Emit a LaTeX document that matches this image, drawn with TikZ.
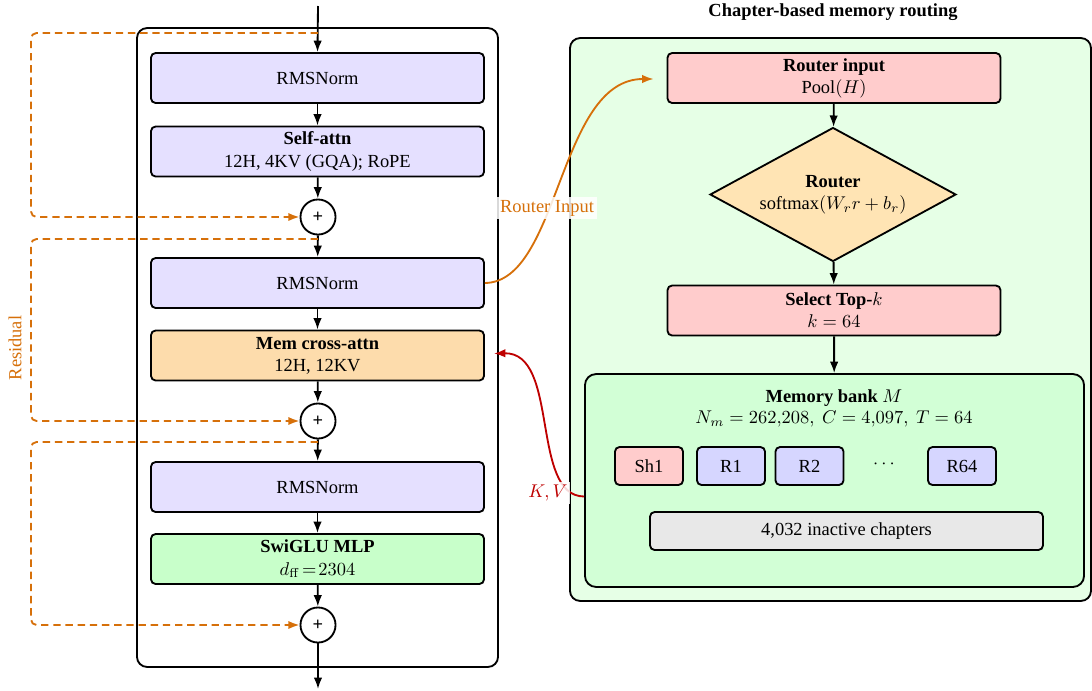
\documentclass[tikz,border=0pt]{standalone}
\usepackage[no-math]{fontspec}
\setmainfont{Liberation Serif}
\usetikzlibrary{arrows.meta,shapes.geometric,calc}
\definecolor{lav}{RGB}{229,224,255}
\definecolor{chipb}{RGB}{214,214,255}
\definecolor{pinkc}{RGB}{255,204,204}
\definecolor{memor}{RGB}{253,220,172}
\definecolor{diaor}{RGB}{255,228,180}
\definecolor{mlpg}{RGB}{200,255,202}
\definecolor{panelg}{RGB}{230,255,230}
\definecolor{bankg}{RGB}{210,255,214}
\definecolor{grayc}{RGB}{232,232,232}
\definecolor{resor}{RGB}{214,112,10}
\definecolor{kvred}{RGB}{190,0,0}
\begin{document}
\begin{tikzpicture}[x=0.542pt,y=-0.542pt,
  lw/.style={line width=1pt},
  blk/.style={draw, lw, rounded corners=2.5pt, minimum width=180.5pt, minimum height=27.1pt, align=center, inner sep=1pt},
  frm/.style={draw, lw, rounded corners=5.5pt, minimum width=195.7pt, minimum height=346.3pt, inner sep=0pt},
  plus/.style={draw, lw, circle, fill=white, minimum size=19pt, inner sep=0pt, font=\bfseries},
  arr/.style={lw, -{Latex[length=6.2pt,width=4.6pt]}},
  res/.style={lw, draw=resor, dash pattern=on 4pt off 2.6pt, rounded corners=3pt, -{Latex[length=6pt,width=4.4pt,fill=resor]}},
  rin/.style={lw, draw=resor, -{Latex[length=6.2pt,width=4.6pt,fill=resor]}},
  kv/.style={lw, draw=kvred, -{Latex[length=6.2pt,width=4.6pt,fill=kvred]}},
  lbl/.style={fill=white, fill opacity=0.85, text opacity=1, inner sep=1.5pt},
  chip/.style={draw, lw, rounded corners=2.5pt, minimum width=36.9pt, minimum height=20.6pt, inner sep=1pt},
]
\useasboundingbox (0,0) rectangle (1092,690);

% ---------- left transformer block ----------
\node[frm] (frame) at (317.5,347.5) {};
\node[blk, fill=lav] (rms1) at (317.5,78) {RMSNorm};
\node[blk, fill=lav] (sa) at (317.5,151.5) {\textbf{Self-attn}\\12H, 4KV (GQA); RoPE};
\node[plus] (p1) at (318,217) {+};
\node[blk, fill=lav] (rms2) at (317.5,283) {RMSNorm};
\node[blk, fill=memor] (mem) at (317.5,355.5) {\textbf{Mem cross-attn}\\12H, 12KV};
\node[plus] (p2) at (318,421) {+};
\node[blk, fill=lav] (rms3) at (317.5,487) {RMSNorm};
\node[blk, fill=mlpg] (mlp) at (317.5,559) {\textbf{SwiGLU MLP}\\$d_{\mathrm{ff}}\!=\!2304$};
\node[plus] (p3) at (318,625) {+};

\coordinate (in) at (318,6);
\coordinate (out) at (318,689);
\coordinate (r1) at (318,33);
\coordinate (r2) at (318,239);
\coordinate (r3) at (318,442);

\draw[arr] (in) -- (rms1.north);
\draw[arr] (rms1) -- (sa);
\draw[arr] (sa) -- (p1);
\draw[arr] (p1) -- (rms2);
\draw[arr] (rms2) -- (mem);
\draw[arr] (mem) -- (p2);
\draw[arr] (p2) -- (rms3);
\draw[arr] (rms3) -- (mlp);
\draw[arr] (mlp) -- (p3);
\draw[arr] (p3) -- (out);

\draw[res] (r1) -- (31,33) |- (p1.west);
\draw[res] (r2) -- (31,239) |- (p2.west);
\draw[res] (r3) -- (31,442) |- (p3.west);
\node[rotate=90, text=resor] (resl) at (15,348) {Residual};

% ---------- right panel ----------
\node[font=\bfseries] (title) at (833,12) {Chapter-based memory routing};
\node[draw, lw, fill=panelg, rounded corners=5.5pt, minimum width=282.4pt, minimum height=305.1pt] (pan) at (830.5,319.5) {};
\node[blk, fill=pinkc] (ri) at (834,78) {\textbf{Router input}\\Pool$(H)$};
\node[draw, lw, fill=diaor, shape=diamond, aspect=1.84, inner sep=1pt, minimum width=133.3pt, minimum height=72.6pt, align=center] (rt) at (833,194.5) {\textbf{Router}\\softmax$(W_r r+b_r)$};
\node[blk, fill=pinkc] (topk) at (834,310.5) {\textbf{Select Top-}$k$\\$k=64$};
\node[draw, lw, fill=bankg, rounded corners=6pt, minimum width=270.5pt, minimum height=115.4pt] (mb) at (834.5,480.5) {};
\node (mbt) at (834,398) {\textbf{Memory bank} $M$};
\node (mbm) at (834,419) {$N_m=262{,}208,\ C=4{,}097,\ T=64$};
\node[chip, fill=pinkc] (sh1) at (649,466) {Sh1};
\node[chip, fill=chipb] (c1) at (731,466) {R1};
\node[chip, fill=chipb] (c2) at (809.5,466) {R2};
\node (dots) at (884,464) {$\cdots$};
\node[chip, fill=chipb] (c64) at (962,466) {R64};
\node[draw, lw, fill=grayc, rounded corners=2.5pt, minimum width=213pt, minimum height=20.6pt] (inact) at (846.5,531) {4,032 inactive chapters};

\draw[arr] (ri) -- (rt);
\draw[arr] (rt) -- (topk);
\draw[arr] (topk) -- (mb);

% ---------- cross connectors ----------
\coordinate (ritip) at ($(ri.west)+(-13,1)$);
\draw[rin] (rms2.east) .. controls (560,282) and (558,79) .. (ritip);
\node[lbl, text=resor] (ril) at (547,208) {Router Input};

\coordinate (kvs) at ($(mb.west)+(0,16)$);
\coordinate (kvt) at ($(mem.east)+(9,-2)$);
\draw[kv] (kvs) .. controls (530,496) and (560,352) .. (kvt);
\node[lbl, text=kvred] (kvl) at (548,493) {$K,V$};
\end{tikzpicture}
\end{document}
